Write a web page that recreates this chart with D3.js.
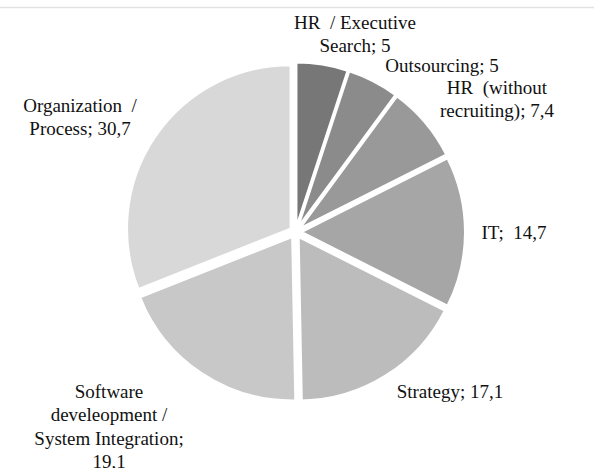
<!DOCTYPE html>
<html>
<head>
<meta charset="utf-8">
<script src="https://cdn.jsdelivr.net/npm/d3@7"></script>
<style>
  svg text, svg .lbl { font-family: "Liberation Serif", "Times New Roman", Tinos, "Nimbus Roman", FreeSerif, serif !important; }
</style>
</head>
<body style="margin:0">
<svg id="chart" width="594" height="468" font-family="Liberation Serif"></svg>
<script>
// ---- data ----
const categories = [
  "HR / Executive Search",
  "Outsourcing",
  "HR (without recruiting)",
  "IT",
  "Strategy",
  "Software develeopment / System Integration",
  "Organization / Process"
];
const values = [5, 5, 7.4, 14.7, 17.1, 19.1, 30.7];
const labelLines = [
  ["HR\u00a0 / Executive", "Search; {v}"],
  ["Outsourcing; {v}"],
  ["HR\u00a0 (without", "recruiting); {v}"],
  ["IT;\u00a0 {v}"],
  ["Strategy; {v}"],
  ["Software", "develeopment /", "System Integration;", "{v}"],
  ["Organization\u00a0 /", "Process; {v}"]
];
const sliceColors = ["#777777", "#8b8b8b", "#999999", "#a6a6a6", "#bcbcbc", "#c8c8c8", "#d8d8d8"];

// ---- layout (not data) ----
const W = 594, H = 468;
const cx = 295.5, cy = 232, R = 163.5, explode = 6;
const labelLayout = [
  [355, 22], [442, 65], [497, 87], [514, 232], [450, 391], [109, 391], [80, 105]
];
const lineStep = 23.5;

const svg = d3.select("#chart");
svg.append("rect").attr("width", W).attr("height", H).attr("fill", "#fff");
svg.append("line").attr("x1", 0).attr("x2", W).attr("y1", 7.5).attr("y2", 7.5)
  .attr("stroke", "#e2e2e2").attr("stroke-width", 1.5);

const data = categories.map((c, i) => ({ name: c, value: values[i], i }));
const pie = d3.pie().sort(null).value(d => d.value).startAngle(0).endAngle(2 * Math.PI);
const arc = d3.arc().innerRadius(0).outerRadius(R);
const color = d3.scaleOrdinal().domain(categories).range(sliceColors);

const g = svg.append("g").attr("transform", `translate(${cx},${cy})`);
g.selectAll("path").data(pie(data)).join("path")
  .attr("d", arc)
  .attr("transform", d => {
    const m = (d.startAngle + d.endAngle) / 2;
    return `translate(${explode * Math.sin(m)},${-explode * Math.cos(m)})`;
  })
  .attr("fill", d => color(d.data.name))
  .attr("stroke", "#fff")
  .attr("stroke-width", 2)
  .attr("stroke-linejoin", "round");

const fmt = v => String(v).replace(".", ",");

data.forEach((d, i) => {
  const [lx, ly] = labelLayout[i];
  labelLines[i].forEach((line, k) => {
    svg.append("text")
      .attr("class", "lbl")
      .attr("x", lx)
      .attr("y", ly + k * lineStep + 6.5)
      .attr("text-anchor", "middle")
      .attr("fill", "#111")
      .attr("font-family", "Liberation Serif")
      .attr("font-size", 19)
      .text(line.replace("{v}", fmt(d.value)));
  });
});
</script>
</body>
</html>
